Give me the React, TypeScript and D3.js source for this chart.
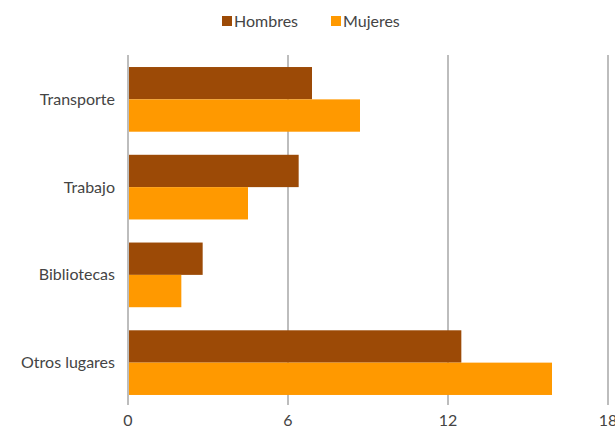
import React from "react";
import * as d3 from "d3";

const categories = ["Transporte", "Trabajo", "Bibliotecas", "Otros lugares"];
const hombres = [6.9, 6.4, 2.8, 12.5];
const mujeres = [8.7, 4.5, 2.0, 15.9];
const seriesNames = ["Hombres", "Mujeres"];
const seriesColors = ["#9C4A06", "#FF9900"];
const xTicks = [0, 6, 12, 18];

export default function App() {
  const W = 615, H = 429;
  const left = 128, right = 608, top = 55, bottom = 404;
  const x = d3.scaleLinear().domain([0, 18]).range([left, right]);
  const y = d3.scaleBand<string>().domain(categories).range([top + 1.5, bottom + 1.5]).paddingInner(0.263).paddingOuter(0.12);
  const inner = d3.scaleBand<string>().domain(seriesNames).range([0, y.bandwidth()]);
  const font = "Lato, 'Open Sans', sans-serif";
  const values = [hombres, mujeres];
  return (
    <svg width={W} height={H} style={{ position: "absolute", left: 0, top: 0 }}>
      {xTicks.map((t) => (
        <g key={t}>
          <line x1={x(t)} x2={x(t)} y1={top} y2={bottom + 1} stroke="#9a9a9a" strokeWidth={1.3} />
          <text x={x(t)} y={426} textAnchor="middle" fontFamily={font} fontSize={16} fill="#444">{t}</text>
        </g>
      ))}
      {categories.map((c, i) => (
        <g key={c}>
          {seriesNames.map((s, j) => (
            <rect key={s} x={x(0) + 1} y={(y(c) as number) + (inner(s) as number)} width={x(values[j][i]) - x(0) - 1}
              height={inner.bandwidth()} fill={seriesColors[j]} />
          ))}
          <text x={115} y={(y(c) as number) + y.bandwidth() / 2 + 5.5} textAnchor="end" fontFamily={font} fontSize={16} fill="#444">{c}</text>
        </g>
      ))}
      {seriesNames.map((s, j) => {
        const lx = j === 0 ? 222 : 331;
        return (
          <g key={s}>
            <rect x={lx} y={16} width={10} height={10} fill={seriesColors[j]} />
            <text x={lx + 12} y={26.5} fontFamily={font} fontSize={16} fill="#444">{s}</text>
          </g>
        );
      })}
    </svg>
  );
}
